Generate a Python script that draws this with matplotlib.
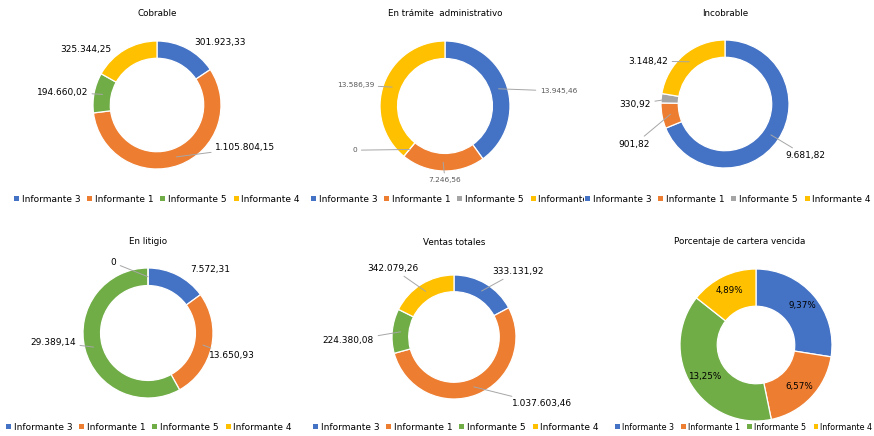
import matplotlib.pyplot as plt
from matplotlib.patches import Patch
import numpy as np

# datos de cada grafico (orden: Informante 3, 1, 5, 4)
informantes = ['Informante 3', 'Informante 1', 'Informante 5', 'Informante 4']

cobrable = [301923.33, 1105804.15, 194660.02, 325344.25]
tramite = [13945.46, 7246.56, 0, 13586.39]
incobrable = [9681.82, 901.82, 330.92, 3148.42]
litigio = [7572.31, 13650.93, 29389.14, 0]
ventas = [333131.92, 1037603.46, 224380.08, 342079.26]
porcentaje = [9.37, 6.57, 13.25, 4.89]

titulos = ['Cobrable', 'En trámite  administrativo', 'Incobrable',
           'En litigio', 'Ventas totales', 'Porcentaje de cartera vencida']

BLUE, ORANGE, GRAY, YELLOW, GREEN = '#4472C4', '#ED7D31', '#A5A5A5', '#FFC000', '#70AD47'
col_green = [BLUE, ORANGE, GREEN, YELLOW]
col_gray = [BLUE, ORANGE, GRAY, YELLOW]

W, H = 874, 436


def fmt(v):
    if v == 0:
        return '0'
    s = f'{v:,.2f}'
    return s.replace(',', '#').replace('.', ',').replace('#', '.')


def fmt_pct(v):
    return f'{v:.2f}%'.replace('.', ',')


# layout: (centro x, centro y, radio) en pixeles
charts = [
    dict(vals=cobrable, cols=col_green, c=(157, 105, 64), width=0.27,
         pos=[(0.59, 0.97, 'left', False), (0.91, -0.67, 'left', True),
              (-1.08, 0.20, 'right', True), (-0.72, 0.86, 'right', False)],
         fs=6.5, tc='black', title_y=13, leg=(13, 199), lfs=6.5, lcs=0.75),
    dict(vals=tramite, cols=col_gray, c=(445, 106, 65), width=0.27,
         pos=[(1.46, 0.23, 'left', True), (0.0, -1.14, 'center', True),
              (-1.35, -0.68, 'right', True), (-1.09, 0.32, 'right', True)],
         fs=5.3, tc='#595959', title_y=14, leg=(310, 199), lfs=6.5, lcs=0.75),
    dict(vals=incobrable, cols=col_gray, c=(725, 104, 64), width=0.27,
         pos=[(0.95, -0.81, 'left', True), (-1.17, -0.63, 'right', True),
              (-1.16, 0.0, 'right', True), (-0.89, 0.67, 'right', True)],
         fs=6.5, tc='black', title_y=13, leg=(584, 199), lfs=6.5, lcs=0.75),
    dict(vals=litigio, cols=col_green, c=(148, 333, 65), width=0.27,
         pos=[(0.65, 0.97, 'left', False), (0.94, -0.35, 'left', True),
              (-1.11, -0.14, 'right', True), (-0.49, 1.08, 'right', True)],
         fs=6.5, tc='black', title_y=241, leg=(5, 427), lfs=6.5, lcs=0.75),
    dict(vals=ventas, cols=col_green, c=(454, 337, 62), width=0.27,
         pos=[(0.61, 1.06, 'left', True), (0.94, -1.08, 'left', True),
              (-1.29, -0.06, 'right', True), (-0.58, 1.11, 'right', True)],
         fs=6.5, tc='black', title_y=242, leg=(312, 427), lfs=6.5, lcs=0.75),
    dict(vals=porcentaje, cols=col_green, c=(756, 345, 76), width=0.49,
         pos=None, fs=6.3, tc='black', title_y=241, leg=(614, 427), lfs=5.8, lcs=0.9),
]

fig = plt.figure(figsize=(W / 100, H / 100), dpi=100)
fig.patch.set_facecolor('white')

for i, ch in enumerate(charts):
    cx, cy, r = ch['c']
    bw, bh = 290, 210
    ax = fig.add_axes([(cx - bw / 2) / W, 1 - (cy + bh / 2) / H, bw / W, bh / H])

    vals = ch['vals']
    ax.pie(vals, colors=ch['cols'], startangle=90, counterclock=False, radius=1,
           wedgeprops=dict(width=ch['width'], edgecolor='white', linewidth=0.9))
    # pie() fija sus propios limites, se ponen despues
    ax.set_xlim(-bw / 2 / r, bw / 2 / r)
    ax.set_ylim(-bh / 2 / r, bh / 2 / r)
    ax.set_aspect('equal')
    ax.axis('off')

    tot = sum(vals)
    cum = np.cumsum([0] + list(vals))
    mid_r = 1 - ch['width'] / 2
    for j, v in enumerate(vals):
        ang = np.deg2rad(90 - 360 * (cum[j] + v / 2) / tot)
        if ch['pos'] is None:
            rr = mid_r + 0.04
            ax.text(rr * np.cos(ang), rr * np.sin(ang), fmt_pct(v), ha='center', va='center',
                    fontsize=ch['fs'], color=ch['tc'])
            continue
        px, py = mid_r * np.cos(ang), mid_r * np.sin(ang)
        dx, dy, ha, lead = ch['pos'][j]
        props = dict(arrowstyle='-', color='#A6A6A6', lw=0.7, shrinkA=1, shrinkB=0) if lead else None
        ax.annotate(fmt(v), xy=(px, py), xytext=(dx, dy), ha=ha, va='center',
                    fontsize=ch['fs'], color=ch['tc'], arrowprops=props)

    fig.text(cx / W if i < 5 else 740 / W, 1 - ch['title_y'] / H, titulos[i],
             ha='center', va='center', fontsize=6.3)

    handles = [Patch(facecolor=c, edgecolor='none') for c in ch['cols']]
    lx, ly = ch['leg']
    fig.legend(handles, informantes, loc='center left', bbox_to_anchor=(lx / W, 1 - ly / H),
               ncol=4, fontsize=ch['lfs'], frameon=True, facecolor='white', edgecolor='none',
               framealpha=1, fancybox=False, handlelength=0.55, handleheight=0.55,
               handletextpad=0.3, columnspacing=ch['lcs'], borderpad=0.15, borderaxespad=0)

fig.savefig('out.png', dpi=100, facecolor='white')
